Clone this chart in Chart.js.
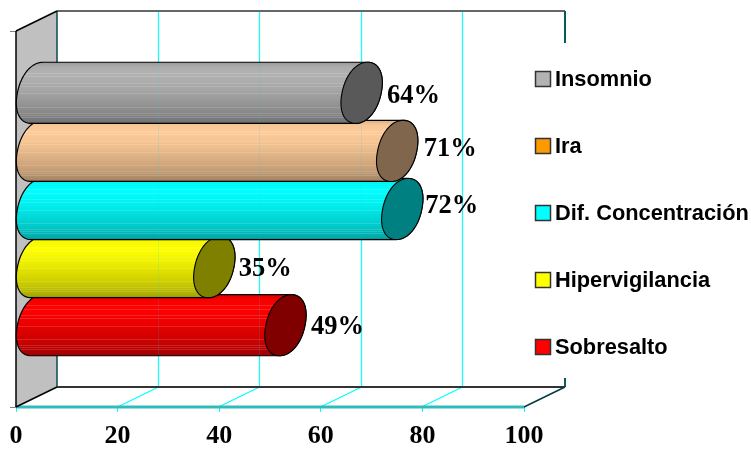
<!DOCTYPE html>
<html>
<head>
<meta charset="utf-8">
<title>Síntomas</title>
<style>
  html, body { margin: 0; padding: 0; background: #fff; }
  canvas { display: block; }
</style>
<script src="https://cdn.jsdelivr.net/npm/chart.js@4/dist/chart.umd.min.js"></script>
</head>
<body>
<canvas id="chart" width="751" height="450"></canvas>
<script>
const CATEGORIES = [''];
const SERIES_NAMES = ['Insomnio', 'Ira', 'Dif. Concentración', 'Hipervigilancia', 'Sobresalto'];
const SERIES_VALUES = [64, 71, 72, 35, 49];
const X_TICKS = [0, 20, 40, 60, 80, 100];

// body colour, end cap colour, legend swatch colour for each series
const BODY_COLORS = ['#b2b2b2', '#ffcc99', '#00ffff', '#ffff00', '#ff0000'];
const CAP_COLORS = ['#595959', '#80664d', '#008080', '#808000', '#800000'];
const SWATCH_COLORS = ['#b2b2b2', '#ff9900', '#00ffff', '#ffff00', '#ff0000'];

// hand placed offsets of the value labels
const LABEL_SHIFT_X = [0, 1, -2.5, -1, 0];
const LABEL_SHIFT_Y = [3, -2, -3, 2, 2];

// how far the back wall sits from the front plane
const DEPTH_X = 41;
const DEPTH_Y = 20;
// the ellipse leans to the right, top point is this far from the centre
const LEAN = 6;
// below 1 the ellipse gets fuller at the shoulders
const ROUNDNESS = 0.94;
// light rows in the cylinder shading, as a fraction of its height
const STREAKS = [0.175, 0.23, 0.34, 0.39, 0.51, 0.73, 0.83, 0.86, 0.89];

function shade(hex, f) {
  const n = parseInt(hex.slice(1), 16);
  const c = [n >> 16, (n >> 8) & 255, n & 255].map(v => Math.round(v * f));
  return `rgb(${c[0]},${c[1]},${c[2]})`;
}

// walls, floor and grid of the box behind the bars
const boxPlugin = {
  id: 'box',
  beforeDatasetsDraw(chart) {
    const { ctx, chartArea: a, scales: { x } } = chart;
    const backTop = a.top - DEPTH_Y;
    const backBottom = a.bottom - DEPTH_Y;
    const line = (color, width, x1, y1, x2, y2) => {
      ctx.strokeStyle = color;
      ctx.lineWidth = width;
      ctx.beginPath();
      ctx.moveTo(x1, y1);
      ctx.lineTo(x2, y2);
      ctx.stroke();
    };

    ctx.save();
    ctx.fillStyle = '#c0c0c0';
    ctx.beginPath();
    ctx.moveTo(a.left, a.top);
    ctx.lineTo(a.left + DEPTH_X, backTop);
    ctx.lineTo(a.left + DEPTH_X, backBottom);
    ctx.lineTo(a.left, a.bottom);
    ctx.closePath();
    ctx.fill();

    X_TICKS.forEach(v => {
      const px = Math.round(x.getPixelForValue(v)) - 0.5;
      if (v > 0 && v < 100) {
        line('#22f8f8', 1.3, px + DEPTH_X, backTop, px + DEPTH_X, backBottom);
        line('#00ffff', 1.2, px, a.bottom, px + DEPTH_X, backBottom);
      }
    });
    line('#666666', 2, a.left + DEPTH_X, backTop, a.right + DEPTH_X, backTop);
    line('#333333', 2, a.left + DEPTH_X, backBottom, a.right + DEPTH_X, backBottom);
    line('#0a4a50', 1.5, a.left + DEPTH_X, backTop, a.left + DEPTH_X, backBottom);
    line('#0a5a5a', 2, a.right + DEPTH_X, backTop, a.right + DEPTH_X, backBottom);
    line('#033c40', 1.5, a.right, a.bottom, a.right + DEPTH_X, backBottom);
    line('#30bcbc', 3, a.left, a.bottom, a.right, a.bottom);
    line('#000000', 1.5, a.left, a.top, a.left, a.bottom);
    line('#000000', 1.5, a.left, a.top, a.left + DEPTH_X, backTop);
    line('#000000', 1.5, a.left, a.bottom, a.left + DEPTH_X, backBottom);
    ctx.restore();
  }
};

// point on the leaning ellipse around (cx, cy), t = 0 is the right side
function ellipsePoint(cx, cy, ry, t) {
  const rx = Math.sqrt(DEPTH_X * DEPTH_X / 4 - LEAN * LEAN);
  const bend = v => Math.sign(v) * Math.pow(Math.abs(v), ROUNDNESS);
  const c = bend(Math.cos(t));
  const s = bend(Math.sin(t));
  return [cx + rx * c + LEAN * s, cy - ry * s];
}

function drawCylinder(chart, i, el) {
  const { ctx, scales: { x } } = chart;
  const cy = el.y - DEPTH_Y / 2;
  const ry = el.height / 2 + 1.5;
  const endX = el.x + DEPTH_X / 2;
  const startX = el.base + DEPTH_X / 2;
  const top = cy - ry;
  const height = ry * 2;
  const color = BODY_COLORS[i];

  const bodyPath = () => {
    ctx.beginPath();
    // left half of the near end, then right half of the far end
    for (let k = 0; k <= 48; k++) {
      const p = ellipsePoint(startX, cy, ry, Math.PI / 2 + k / 48 * Math.PI);
      k === 0 ? ctx.moveTo(p[0], p[1]) : ctx.lineTo(p[0], p[1]);
    }
    for (let k = 0; k <= 48; k++) {
      const p = ellipsePoint(endX, cy, ry, -Math.PI / 2 + k / 48 * Math.PI);
      ctx.lineTo(p[0], p[1]);
    }
    ctx.closePath();
  };

  ctx.save();
  const grad = ctx.createLinearGradient(0, top, 0, top + height);
  grad.addColorStop(0, shade(color, 0.86));
  grad.addColorStop(0.08, shade(color, 0.97));
  grad.addColorStop(0.2, shade(color, 1));
  grad.addColorStop(0.45, shade(color, 0.93));
  grad.addColorStop(0.8, shade(color, 0.78));
  grad.addColorStop(0.97, shade(color, 0.66));
  grad.addColorStop(1, shade(color, 0.55));
  bodyPath();
  ctx.fillStyle = grad;
  ctx.fill();

  ctx.save();
  bodyPath();
  ctx.clip();
  ctx.fillStyle = 'rgba(255,255,255,0.14)';
  STREAKS.forEach(f => ctx.fillRect(el.base, Math.round(top + f * height), el.x - el.base + DEPTH_X, 1));
  // back grid lines show faintly through the shading
  ctx.strokeStyle = 'rgba(0,220,220,0.14)';
  ctx.lineWidth = 1;
  X_TICKS.slice(1, 5).forEach(v => {
    const px = Math.round(x.getPixelForValue(v)) - 0.5 + DEPTH_X;
    ctx.beginPath();
    ctx.moveTo(px, top);
    ctx.lineTo(px, top + height);
    ctx.stroke();
  });
  ctx.restore();

  bodyPath();
  ctx.strokeStyle = '#000';
  ctx.lineWidth = 1.2;
  ctx.stroke();

  ctx.beginPath();
  for (let k = 0; k <= 96; k++) {
    const p = ellipsePoint(endX, cy, ry, k / 96 * Math.PI * 2);
    k === 0 ? ctx.moveTo(p[0], p[1]) : ctx.lineTo(p[0], p[1]);
  }
  ctx.closePath();
  ctx.fillStyle = CAP_COLORS[i];
  ctx.fill();
  ctx.strokeStyle = '#000';
  ctx.lineWidth = 1.1;
  ctx.stroke();
  ctx.restore();
}

const cylinderPlugin = {
  id: 'cylinder',
  beforeDatasetDraw(chart, args) {
    const el = args.meta.data[0];
    drawCylinder(chart, args.index, el);
    return false;
  }
};

// value labels next to the caps, and the legend column
const overlayPlugin = {
  id: 'overlay',
  afterDatasetsDraw(chart) {
    const { ctx } = chart;
    ctx.save();

    ctx.fillStyle = '#fff';
    ctx.fillRect(528, 43, 223, 335);

    SERIES_NAMES.forEach((name, i) => {
      const rowY = 79 + i * 67;
      ctx.fillStyle = SWATCH_COLORS[i];
      ctx.fillRect(535.5, rowY - 7.5, 15, 15);
      ctx.strokeStyle = '#333';
      ctx.lineWidth = 1.5;
      ctx.strokeRect(535.5, rowY - 7.5, 15, 15);
      ctx.fillStyle = '#000';
      ctx.font = 'bold 21.8px "Liberation Sans"';
      ctx.textAlign = 'left';
      ctx.textBaseline = 'middle';
      ctx.fillText(name, 555, rowY + 1);
    });

    ctx.font = 'bold 26.5px "Liberation Serif"';
    ctx.fillStyle = '#000';
    ctx.textAlign = 'left';
    ctx.textBaseline = 'middle';
    SERIES_VALUES.forEach((v, i) => {
      const el = chart.getDatasetMeta(i).data[0];
      ctx.fillText(v + '%', el.x + DEPTH_X + 5 + LABEL_SHIFT_X[i], el.y - DEPTH_Y / 2 + LABEL_SHIFT_Y[i]);
    });
    ctx.restore();
  }
};

new Chart(document.getElementById('chart'), {
  type: 'bar',
  data: {
    labels: CATEGORIES,
    datasets: SERIES_NAMES.map((name, i) => ({
      label: name,
      data: [SERIES_VALUES[i]],
      backgroundColor: BODY_COLORS[i]
    }))
  },
  options: {
    indexAxis: 'y',
    responsive: false,
    animation: false,
    categoryPercentage: 0.7726,
    barPercentage: 1,
    layout: { padding: { left: 10, right: 227, top: 31, bottom: 0 } },
    plugins: { legend: { display: false }, tooltip: { enabled: false } },
    scales: {
      x: {
        min: 0,
        max: 100,
        afterFit: s => { s.height = 43; },
        afterBuildTicks: s => { s.ticks = X_TICKS.map(v => ({ value: v })); },
        border: { color: '#30bcbc', width: 2 },
        grid: { drawOnChartArea: false, color: '#00ffff', tickLength: 5 },
        ticks: {
          color: '#000',
          maxRotation: 0,
          padding: 9,
          font: { family: '"Liberation Serif"', size: 26, weight: 'bold' }
        }
      },
      y: {
        afterFit: s => { s.width = 6; },
        border: { color: '#000', width: 1 },
        grid: { drawOnChartArea: false, color: '#808080', tickLength: 6 },
        ticks: { display: false }
      }
    }
  },
  plugins: [boxPlugin, cylinderPlugin, overlayPlugin]
});
</script>
</body>
</html>
